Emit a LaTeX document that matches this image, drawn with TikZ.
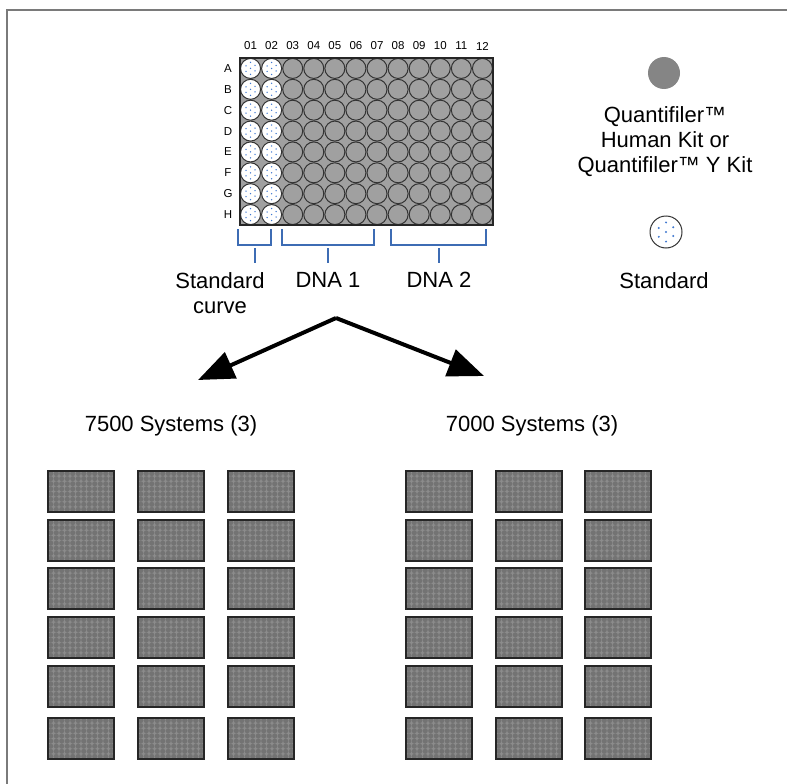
\documentclass[tikz,border=0pt]{standalone}
\usepackage{fontspec}
\setmainfont{Liberation Sans}
\usetikzlibrary{arrows.meta}
\definecolor{wellgray}{HTML}{A0A0A0}
\definecolor{kitgray}{HTML}{858585}
\definecolor{minigray}{HTML}{8C8C8C}
\definecolor{miniwell}{HTML}{ABABAB}
\definecolor{bracketblue}{HTML}{3D6CB4}
\definecolor{framegray}{HTML}{7A7A7A}
\definecolor{dotblue}{HTML}{3F78D0}

\newcommand{\stdwell}[4]{%
  \fill[white] (#1,#2) circle (#3);
  \foreach \dx/\dy in {-0.45/-0.25,-0.45/0.3,0/-0.6,0/0,0/0.6,0.45/-0.3,0.45/0.25}
    \fill[dotblue] ({#1+\dx*#3},{#2+\dy*#3}) circle (#4);
  \draw[line width=1pt, black!80] (#1,#2) circle (#3);}

\tikzset{
  lbl/.style={font=\fontsize{22}{25}\selectfont, align=center, inner sep=0pt},
  platelbl/.style={font=\fontsize{11.5}{12}\selectfont, inner sep=0pt},
  bracket/.style={bracketblue, line width=1.6pt},
  miniplate/.pic={
    \fill[minigray] (0,0) rectangle (66,41);
    \foreach \c in {1,...,12}
      \foreach \r in {1,...,8}
        \draw[fill=miniwell, line width=0.15pt, black!55] ({5.5*(\c-0.5)},{5.125*(\r-0.5)}) circle (2.4);
    \draw[line width=1.1pt, black!85] (0,0) rectangle (66,41);
  }
}

\begin{document}
\begin{tikzpicture}[x=1pt, y=-1pt, line width=0.5pt, >=Stealth]
  \useasboundingbox (0,0) rectangle (787,784);
  \draw[framegray, line width=1.4pt] (787,10) -- (7,10) -- (7,784);

  % big plate
  \coordinate (plateNW) at (240,58);
  \coordinate (plateSE) at (493,225);
  \fill[wellgray] (plateNW) rectangle (plateSE);
  \foreach \c in {1,...,12} {
    \foreach \r in {1,...,8} {
      \pgfmathsetmacro{\cx}{240+21.08*(\c-0.5)}
      \pgfmathsetmacro{\cy}{58+20.875*(\r-0.5)}
      \ifnum\c<3
        \stdwell{\cx}{\cy}{10}{0.75}
      \else
        \draw[line width=1pt, black!80] (\cx,\cy) circle (10);
      \fi
    }
  }
  \draw[line width=1.3pt, black!85] (plateNW) rectangle (plateSE);
  \foreach \c/\t in {1/01,2/02,3/03,4/04,5/05,6/06,7/07,8/08,9/09,10/10,11/11,12/12}
    \node[platelbl] (col\t) at ({240+21.08*(\c-0.5)},46) {\t};
  \foreach \r/\t in {1/A,2/B,3/C,4/D,5/E,6/F,7/G,8/H}
    \node[platelbl] (row\t) at (228,{58+20.875*(\r-0.5)}) {\t};

  % brackets
  \foreach \a/\b/\m in {238/271/255, 282/374/328, 391/486/439} {
    \draw[bracket] (\a,229) -- (\a,245) -- (\b,245) -- (\b,229);
    \draw[bracket] (\m,248) -- (\m,263);
  }
  \node[lbl, anchor=north] (stdcurve) at (220,272) {Standard\\curve};
  \node[lbl, anchor=north] (dnaone) at (328,272) {DNA 1};
  \node[lbl, anchor=north] (dnatwo) at (439,272) {DNA 2};

  % legend
  \fill[kitgray] (664,73) circle (16);
  \node[lbl, anchor=north] (kitlbl) at (665,106) {Quantifiler™\\Human Kit or\\Quantifiler™ Y Kit};
  \stdwell{666}{232}{16}{1.1}
  \node[lbl, anchor=north] (stdlbl) at (664,272) {Standard};

  % arrows
  \coordinate (apex) at (336,318);
  \coordinate (lefttip) at (198,380);
  \coordinate (righttip) at (484,376);
  \draw[line width=4pt, -{Triangle[length=36pt, width=28pt]}] (apex) -- (lefttip);
  \draw[line width=4pt, -{Triangle[length=36pt, width=28pt]}] (apex) -- (righttip);

  \node[lbl, anchor=north] (sevenfive) at (171,415) {7500 Systems (3)};
  \node[lbl, anchor=north] (sevenzero) at (532,415) {7000 Systems (3)};

  % plates per system
  \foreach \y in {471,520,568,617,666,718}
    \foreach \x in {48,138,228,406,496,585}
      \pic at (\x,\y) {miniplate};
\end{tikzpicture}
\end{document}
